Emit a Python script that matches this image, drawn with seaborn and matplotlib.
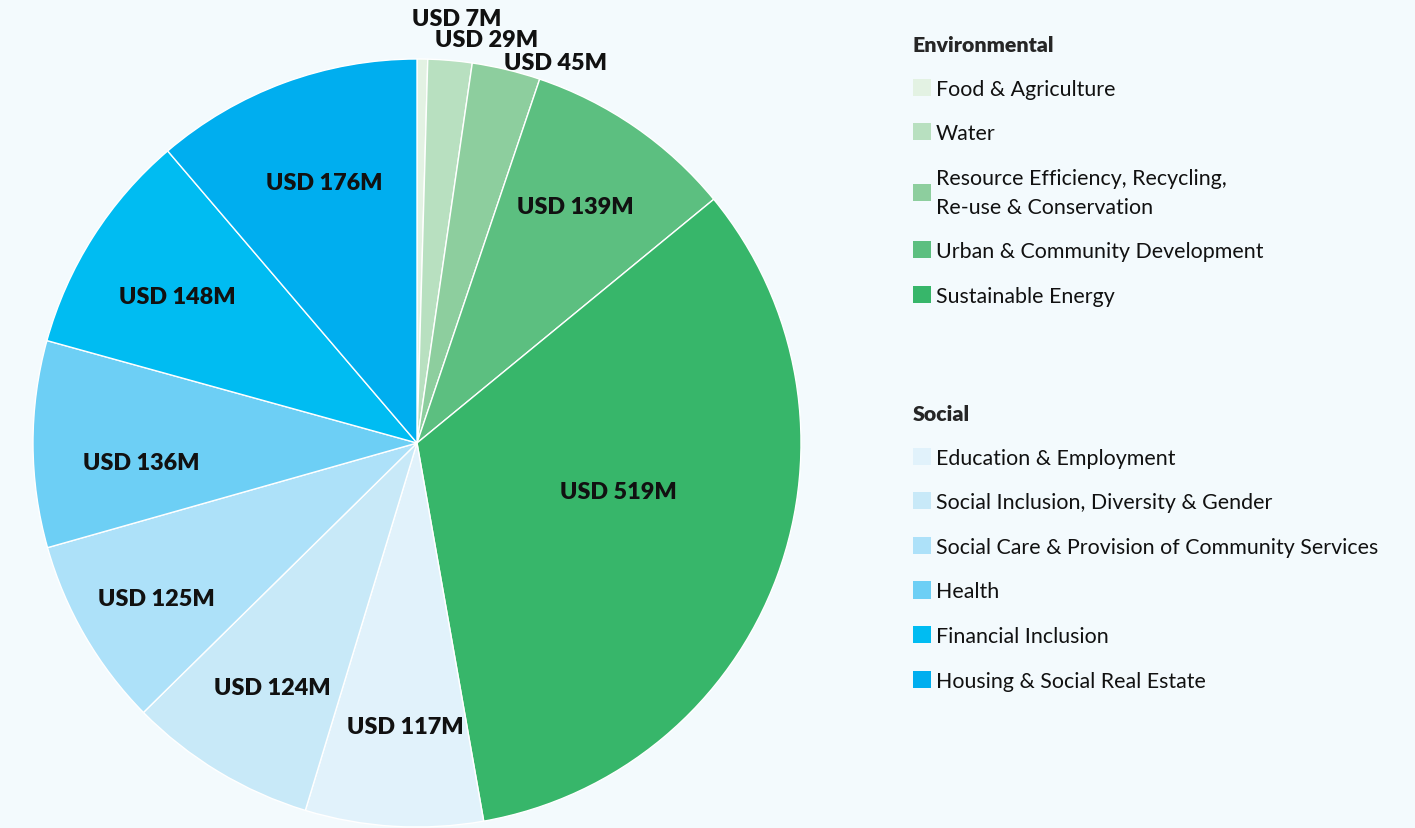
import numpy as np
import seaborn as sns
import matplotlib.pyplot as plt
from matplotlib.patches import Patch

# data
env_labels = ["Food & Agriculture", "Water",
              "Resource Efficiency, Recycling,\nRe-use & Conservation",
              "Urban & Community Development", "Sustainable Energy"]
env_values = [7, 29, 45, 139, 519]
env_colors = ["#e3f2e3", "#b8e0c0", "#8dce9e", "#5cbf80", "#37b66a"]

soc_labels = ["Education & Employment", "Social Inclusion, Diversity & Gender",
              "Social Care & Provision of Community Services", "Health",
              "Financial Inclusion", "Housing & Social Real Estate"]
soc_values = [117, 124, 125, 136, 148, 176]
soc_colors = ["#e1f2fb", "#c8e9f8", "#ade1f9", "#6dcff5", "#00bcf2", "#00aeef"]

# label placement (radius, clockwise angle nudge in degrees)
label_radius = [1.11, 1.065, 1.055, 0.74, 0.54, 0.74, 0.74, 0.79, 0.72, 0.73, 0.72]
label_nudge = [4.6, 4.8, 6.5, -0.8, -6.8, -1.1, -0.5, -0.7, -3.8, -1.1, 0.6]

bg = "#f3fafd"
sns.set_theme(style="white")
plt.rcParams["font.family"] = ["Lato", "DejaVu Sans"]

fig = plt.figure(figsize=(14.15, 8.29), dpi=100, facecolor=bg)
ax = fig.add_axes([33 / 1415, 1 / 829, 768 / 1415, 768 / 829])
ax.set_facecolor(bg)

values = env_values + soc_values
colors = env_colors + soc_colors
wedges, _ = ax.pie(values, colors=colors, startangle=90, counterclock=False,
                   radius=1, wedgeprops=dict(edgecolor="white", linewidth=1.0))
ax.set_xlim(-1, 1)
ax.set_ylim(-1, 1)
ax.set_aspect("equal")
ax.axis("off")

for w, v, r, d in zip(wedges, values, label_radius, label_nudge):
    ang = np.deg2rad((w.theta1 + w.theta2) / 2 - d)
    ax.text(r * np.cos(ang), r * np.sin(ang), f"USD {v}M", ha="center",
            va="center", fontsize=16.8, fontweight="heavy", color="#111111",
            clip_on=False)

# legends
def make_legend(labels, cols, title, anchor):
    handles = [Patch(facecolor=c, edgecolor="none") for c in cols]
    leg = fig.legend(handles, labels, title=title, loc="upper left",
                     bbox_to_anchor=anchor, frameon=False, fontsize=15.4,
                     title_fontproperties={"weight": "heavy", "size": 15.4},
                     alignment="left", handlelength=0.85, handleheight=0.85,
                     handletextpad=0.22, labelspacing=1.15, borderpad=0,
                     borderaxespad=0)
    for t in leg.get_texts():
        t.set_color("#111111")
        t.set_linespacing(1.55)
    return leg

make_legend(env_labels, env_colors, "Environmental", (913 / 1415, 1 - 36 / 829))
make_legend(soc_labels, soc_colors, "Social", (913 / 1415, 1 - 405 / 829))

fig.savefig("out.png", dpi=100, facecolor=bg)
